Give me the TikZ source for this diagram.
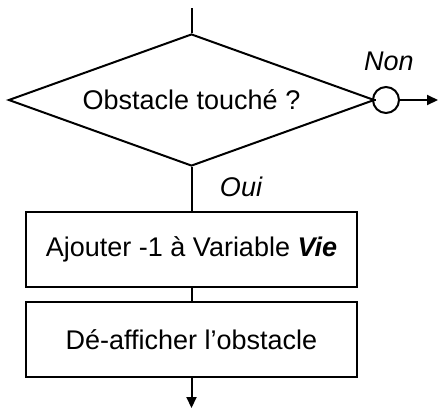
\documentclass[tikz,border=0pt]{standalone}
\usepackage{fontspec}
\setmainfont{Liberation Sans}
\usetikzlibrary{shapes.geometric,arrows.meta}
\begin{document}
\begin{tikzpicture}[x=1pt,y=-1pt,
  every node/.style={font=\fontsize{27}{31}\selectfont},
  line/.style={line width=2pt},
  arr/.style={line width=2pt,-{Triangle[length=11pt,width=10pt]}},
  decision/.style={diamond,draw,line width=2pt,inner sep=0pt,aspect=2.77,minimum width=366pt,minimum height=132pt},
  stepbox/.style={rectangle,draw,line width=2pt,minimum width=331pt,minimum height=75pt,inner sep=0pt},
  junction/.style={circle,draw,line width=2pt,minimum size=26pt,inner sep=0pt,fill=white},
  lbl/.style={font=\fontsize{27}{31}\selectfont\itshape}]
\useasboundingbox (0,0) rectangle (438,408);
\coordinate (start) at (191.5,8);
\node[decision] (dec) at (191.5,100) {Obstacle touché ?};
\node[junction] (j) at (386,100) {};
\coordinate (out) at (438,100);
\node[stepbox] (b1) at (191.5,249.5) {Ajouter -1 à Variable \textbf{\textit{Vie}}};
\node[stepbox] (b2) at (191.5,339.5) {Dé-afficher l’obstacle};
\coordinate (end) at (191.5,408);
\node[lbl] (non) at (389,61) {Non};
\node[lbl] (oui) at (241,187) {Oui};
\draw[line] (start) -- (dec.north);
\draw[line] (dec.east) -- (j.west);
\draw[arr] (j.east) -- (out);
\draw[line] (dec.south) -- (b1.north);
\draw[line] (b1.south) -- (b2.north);
\draw[arr] (b2.south) -- (end);
\end{tikzpicture}
\end{document}
